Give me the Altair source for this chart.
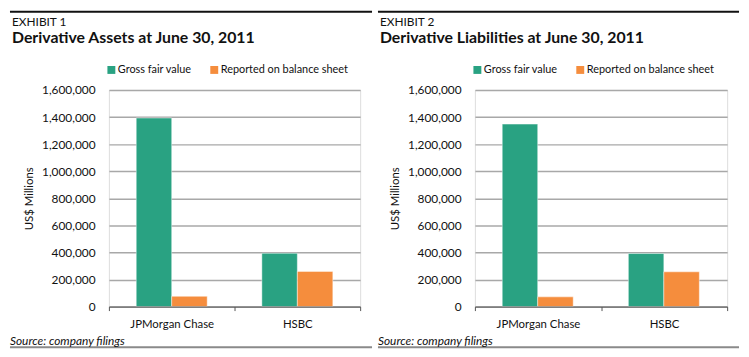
import altair as alt
import pandas as pd

companies = ["JPMorgan Chase", "HSBC"]
series = ["Gross fair value", "Reported on balance sheet"]
colors = ["#29a282", "#f58d3d"]

assets_gross = [1393000, 394000]
assets_reported = [76000, 260000]
liab_gross = [1348000, 392000]
liab_reported = [72000, 257000]

y_ticks = [0, 200000, 400000, 600000, 800000, 1000000, 1200000, 1400000, 1600000]

FONT = "Lato"


def make_df(gross, reported):
    rows = []
    for c, g, r in zip(companies, gross, reported):
        rows.append({"company": c, "series": series[0], "value": g})
        rows.append({"company": c, "series": series[1], "value": r})
    return pd.DataFrame(rows)


def panel(df, exhibit, title, w, h, line_left, line_right):
    bars = alt.Chart(df).mark_bar(stroke="#ffffff", strokeOpacity=0.45,
                                  strokeWidth=1).encode(
        x=alt.X("company:N", sort=companies,
                scale=alt.Scale(paddingInner=0, paddingOuter=0),
                axis=alt.Axis(title=None, labelAngle=0, domainColor="#555555",
                              domainWidth=1, tickColor="#555555", tickSize=4,
                              tickBand="extent", labelPadding=8, labelFontSize=11.5,
                              labelColor="#111111", grid=False, zindex=1)),
        xOffset=alt.XOffset("series:N", sort=series,
                            scale=alt.Scale(paddingInner=0, paddingOuter=0.77)),
        y=alt.Y("value:Q", scale=alt.Scale(domain=[0, 1600000], nice=False),
                axis=alt.Axis(values=y_ticks, format=",.0f", grid=True,
                              gridColor="#a8a8a8", gridWidth=1.5, domain=False,
                              ticks=False, labelPadding=14, labelFontSize=12,
                              labelColor="#111111", title="US$ Millions",
                              titleFontSize=11.5, titleFontWeight="normal",
                              titleColor="#111111", titlePadding=7)),
        color=alt.Color("series:N", sort=series,
                        scale=alt.Scale(domain=series, range=colors),
                        legend=alt.Legend(orient="none", legendX=-3, legendY=-26,
                                          direction="horizontal", title=None,
                                          symbolType="square", symbolSize=64,
                                          symbolStrokeWidth=0, labelFontSize=11,
                                          labelColor="#111111", labelOffset=1,
                                          columnPadding=17)),
    )
    one = pd.DataFrame({"t": ["Source: company filings"], "e": [exhibit], "h": [title]})
    top_rule = alt.Chart(one).mark_rule(color="#111111", strokeWidth=2).encode(
        x=alt.value(line_left), x2=alt.value(line_right), y=alt.value(-79))
    bottom_rule = alt.Chart(one).mark_rule(color="#8a8a8a", strokeWidth=2).encode(
        x=alt.value(line_left), x2=alt.value(line_right), y=alt.value(h + 41))
    source = alt.Chart(one).mark_text(align="left", baseline="middle", fontSize=12,
                                      fontStyle="italic", font=FONT,
                                      color="#111111").encode(
        x=alt.value(line_left), y=alt.value(h + 35), text="t:N")
    exh = alt.Chart(one).mark_text(align="left", baseline="alphabetic", fontSize=12,
                                   font=FONT, color="#111111").encode(
        x=alt.value(line_left + 2), y=alt.value(-65), text="e:N")
    ttl = alt.Chart(one).mark_text(align="left", baseline="alphabetic", fontSize=16,
                                   fontWeight="bold", font=FONT,
                                   color="#111111").encode(
        x=alt.value(line_left + 2), y=alt.value(-47), text="h:N")
    return alt.layer(bars, top_rule, bottom_rule, source, exh, ttl).properties(
        width=w, height=h)


left = panel(make_df(assets_gross, assets_reported), "EXHIBIT 1",
             "Derivative Assets at June 30, 2011", 254, 219, -100, 266)
right = panel(make_df(liab_gross, liab_reported), "EXHIBIT 2",
              "Derivative Liabilities at June 30, 2011", 255, 219, -98, 267)

chart = alt.hconcat(left, right, spacing=2).resolve_legend(
    color="independent").properties(padding=0).configure_view(
    stroke=None).configure(font=FONT).configure_axis(
    labelFont=FONT, titleFont=FONT).configure_legend(labelFont=FONT)

chart.save("out.html", embed_options={"renderer": "svg", "actions": False})
